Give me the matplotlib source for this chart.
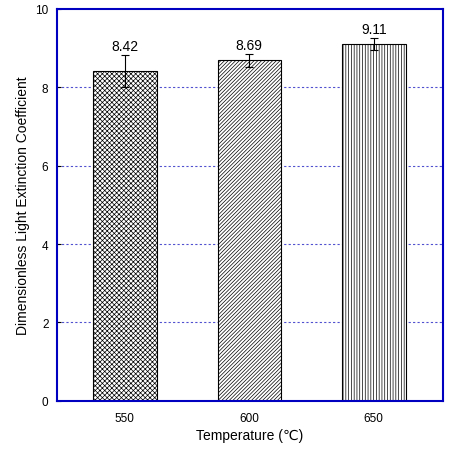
import matplotlib
matplotlib.use("Agg")
import matplotlib.pyplot as plt

temps = ["550", "600", "650"]
values = [8.42, 8.69, 9.11]
errors = [0.40, 0.17, 0.15]
hatches = ["xxxxxxx", "/////////", "||||||"]

plt.rcParams['hatch.linewidth'] = 0.5
fig = plt.figure(figsize=(4.51, 4.52), dpi=100)
ax = fig.add_axes([0.126, 0.111, 0.856, 0.867])
x = list(range(len(temps)))
for xi, v, e, h in zip(x, values, errors, hatches):
    ax.bar(xi, v, width=0.51, color="white", edgecolor="black", hatch=h, linewidth=0.8, zorder=2)
    ax.errorbar(xi, v, yerr=e, color="black", capsize=3, linewidth=0.8, capthick=0.8, zorder=3)
    ax.text(xi, v + e + 0.23, f"{v:.2f}", ha="center", va="center", fontsize=10,
            family="Liberation Sans")
ax.set_xlim(-0.546, 2.555)
ax.set_ylim(0, 10)
ax.set_yticks([0, 2, 4, 6, 8, 10])
ax.set_xticks(x)
ax.set_xticklabels(temps)
for y in [2, 4, 6, 8]:
    ax.axhline(y, color="#5050d0", linestyle=(0, (2, 2)), linewidth=0.8, zorder=1)
for s in ax.spines.values():
    s.set_color("#0000c0")
    s.set_linewidth(1.5)
ax.tick_params(labelsize=8.5, direction="in", length=3)
ax.tick_params(axis="x", pad=8)
ax.tick_params(axis="y", pad=6)
for lab in ax.get_xticklabels() + ax.get_yticklabels():
    lab.set_family("Liberation Sans")
ax.set_xlabel("Temperature (℃)", fontsize=10, family=["Liberation Sans", "DejaVu Sans"], labelpad=3)
ax.set_ylabel("Dimensionless Light Extinction Coefficient", fontsize=10, family="Liberation Sans")
fig.savefig("out.png", dpi=100)
